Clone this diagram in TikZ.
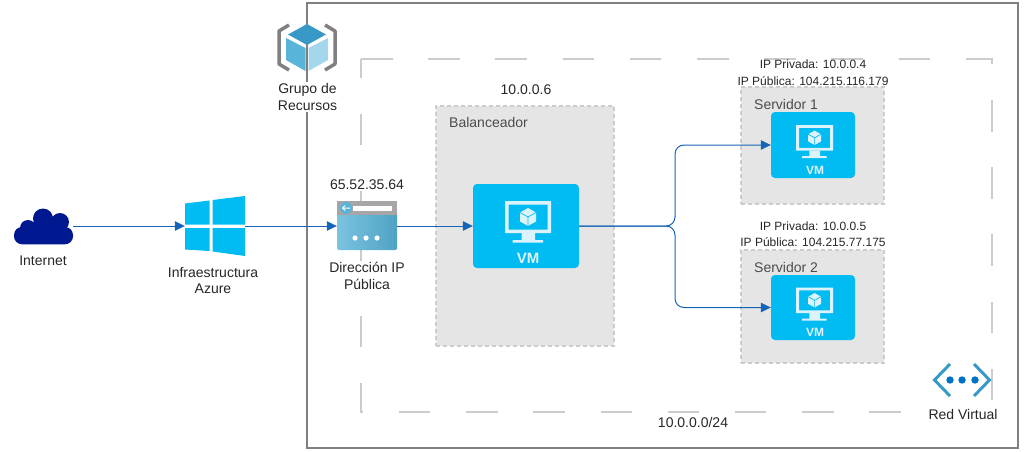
\documentclass[tikz,border=0pt]{standalone}
\usepackage{fontspec}
\setmainfont{Liberation Sans}
\usetikzlibrary{arrows.meta}

\definecolor{vmblue}{HTML}{00BCF2}
\definecolor{vmwhite}{HTML}{DDF3FB}
\definecolor{linkblue}{HTML}{1464B8}
\definecolor{netblue}{HTML}{0072C6}
\definecolor{cloudblue}{HTML}{00188F}
\definecolor{cubetop}{HTML}{3999C6}
\definecolor{cubeleft}{HTML}{59B4D9}
\definecolor{cuberight}{HTML}{A5D7EC}

\tikzset{
  link/.style={draw=linkblue, line width=1pt, -{Triangle[length=10pt,width=9.5pt]}},
  txt/.style={inner sep=0pt, text=black!85, font=\fontsize{14}{17}\selectfont, align=center},
  smalltxt/.style={txt, font=\fontsize{12}{16.5}\selectfont},
  greybox/.style={draw=black!20, fill=black!10, line width=2pt, dash pattern=on 4pt off 3pt, inner sep=0pt},
  vmbox/.style={fill=vmblue, rounded corners=4pt, inner sep=0pt},
  iconbox/.style={inner sep=0pt},
  vmicon/.pic={
    \fill[vmwhite, even odd rule] (-21,-25) rectangle (25,7) (-17.5,-21.5) rectangle (21.5,3.5);
    \fill[vmwhite] (-4.5,7) rectangle (9,14) (-13.5,14) rectangle (17,16.5);
    \fill[vmwhite] (2,-18) -- (10,-13.5) -- (10,-4.5) -- (2,0) -- (-6,-4.5) -- (-6,-13.5) -- cycle;
    \draw[vmblue, line width=0.7pt] (-6,-13.5) -- (2,-9) -- (10,-13.5) (2,-9) -- (2,0);
  }
}

\begin{document}
\begin{tikzpicture}[x=1pt,y=-1pt]
\useasboundingbox (0,0) rectangle (1025,452);

% boxes
\draw[black!50, line width=1.5pt] (307,3) rectangle (1018,448);
\draw[black!20, line width=2pt, dash pattern=on 31.5pt off 35.7pt] (361,59) -- (992,59) -- (992,412) -- (361,412) -- cycle;
\node[greybox, minimum width=178pt, minimum height=240pt] (lbbox) at (525,226) {};
\node[greybox, minimum width=143pt, minimum height=117pt] (srvboxa) at (812.5,145.5) {};
\node[greybox, minimum width=143pt, minimum height=113pt] (srvboxb) at (812.5,306.5) {};

% icons
\node[iconbox, minimum width=59pt, minimum height=35pt] (inet) at (43.5,226) {};
\fill[cloudblue, rounded corners=8pt] (14,227) rectangle (73,244.3);
\fill[cloudblue] (28,228) circle (8) (43,218.5) circle (10) (60,222) circle (9);
\fill[cloudblue] (28,224) rectangle (62,232);

\node[iconbox, minimum width=60pt, minimum height=60pt] (azure) at (215,226) {};
\fill[vmblue] (185,203.5) -- (209.5,200.5) -- (209.5,224.5) -- (185,224.5) -- cycle;
\fill[vmblue] (212.5,200) -- (245,196) -- (245,224.5) -- (212.5,224.5) -- cycle;
\fill[vmblue] (185,228) -- (209.5,228) -- (209.5,251) -- (185,249.5) -- cycle;
\fill[vmblue] (212.5,228) -- (245,228) -- (245,256) -- (212.5,251.5) -- cycle;

\node[iconbox, minimum width=60pt, minimum height=50pt] (pubip) at (367,226) {};
\shade[left color=cubeleft!80!white, right color=cubeleft!90!black, rounded corners=1.5pt] (337,212) rectangle (397,250);
\fill[black!35] (337,201) rectangle (397,215);
\fill[cubeleft] (346,208) circle (6);
\fill[white] (353,206) rectangle (392,211);
\draw[white, line width=1pt] (342.5,208) -- (350,208) (345,205.5) -- (342.5,208) -- (345,210.5);
\fill[white] (355,238) circle (2.6) (366,238) circle (2.6) (377,238) circle (2.6);

% resource group
\draw[black!50, line width=3.5pt, line join=round] (289,25) -- (279,31) -- (279,64) -- (289,70);
\draw[black!50, line width=3.5pt, line join=round] (325,25) -- (335,31) -- (335,64) -- (325,70);
\fill[cubeleft] (286,38) -- (305.5,48) -- (305.5,71) -- (286,60) -- cycle;
\fill[cuberight] (308.5,48) -- (328,38) -- (328,60) -- (308.5,71) -- cycle;
\fill[cubetop] (288,34.5) -- (307,24) -- (326,34.5) -- (307,45) -- cycle;

% vms
\node[vmbox, minimum width=106pt, minimum height=84pt] (vmlb) at (526,226) {};
\node[vmbox, minimum width=84pt, minimum height=66pt] (vmsrva) at (813,145) {};
\node[vmbox, minimum width=84pt, minimum height=65pt] (vmsrvb) at (813,307.5) {};
\pic at (vmlb.center) {vmicon};
\pic[scale=0.8] at (vmsrva.center) {vmicon};
\pic[scale=0.8] at (vmsrvb.center) {vmicon};
\node[inner sep=0pt, text=vmwhite, font=\fontsize{15}{15}\selectfont\bfseries] (vmlbname) at (528,258) {VM};
\node[inner sep=0pt, text=vmwhite, font=\fontsize{12}{12}\selectfont\bfseries] (vmsrvaname) at (815,170.5) {VM};
\node[inner sep=0pt, text=vmwhite, font=\fontsize{12}{12}\selectfont\bfseries] (vmsrvbname) at (815,332.5) {VM};

% links
\coordinate (fork) at (675,226);
\draw[link] (inet.east) -- (azure.west);
\draw[link] (azure.east) -- (pubip.west);
\draw[link] (pubip.east) -- (vmlb.west);
\draw[link, rounded corners=9pt] (vmlb.east) -- (fork) |- (vmsrva.west);
\draw[link, rounded corners=9pt] (vmlb.east) -- (fork) |- (vmsrvb.west);

% labels
\node[txt, fill=white, inner ysep=1pt] (rglabel) at (307.5,97) {Grupo de\\Recursos};
\node[txt] (inetlabel) at (43,261) {Internet};
\node[txt] (azurelabel) at (213,280.5) {Infraestructura\\Azure};
\node[txt, fill=white, inner ysep=1pt] (ipaddr) at (367,185) {65.52.35.64};
\node[txt, fill=white, inner ysep=1pt] (iplabel) at (367,275.5) {Dirección IP\\Pública};
\node[txt] (lbaddr) at (526,90) {10.0.0.6};
\node[txt, anchor=west, text=black!70] (lblabel) at (449,122) {Balanceador};
\node[txt, anchor=west, text=black!70] (srvalabel) at (754,104) {Servidor 1};
\node[txt, anchor=west, text=black!70] (srvblabel) at (754,267) {Servidor 2};
\node[smalltxt] (srvaaddr) at (813,72.5) {IP Privada: 10.0.0.4\\IP Pública: 104.215.116.179};
\node[smalltxt] (srvbaddr) at (813,234) {IP Privada: 10.0.0.5\\IP Pública: 104.215.77.175};
\node[txt] (netaddr) at (693,422) {10.0.0.0/24};
\node[txt, fill=white, inner ysep=1pt, inner xsep=2pt] (netlabel) at (963,414) {Red Virtual};

% red virtual
\draw[cubetop, line width=3pt] (950,364) -- (934.5,380) -- (950,396);
\draw[cubetop, line width=3pt] (974,364) -- (989.5,380) -- (974,396);
\fill[netblue] (950,380) circle (3.7) (962,380) circle (3.7) (975,380) circle (3.7);

\end{tikzpicture}
\end{document}
